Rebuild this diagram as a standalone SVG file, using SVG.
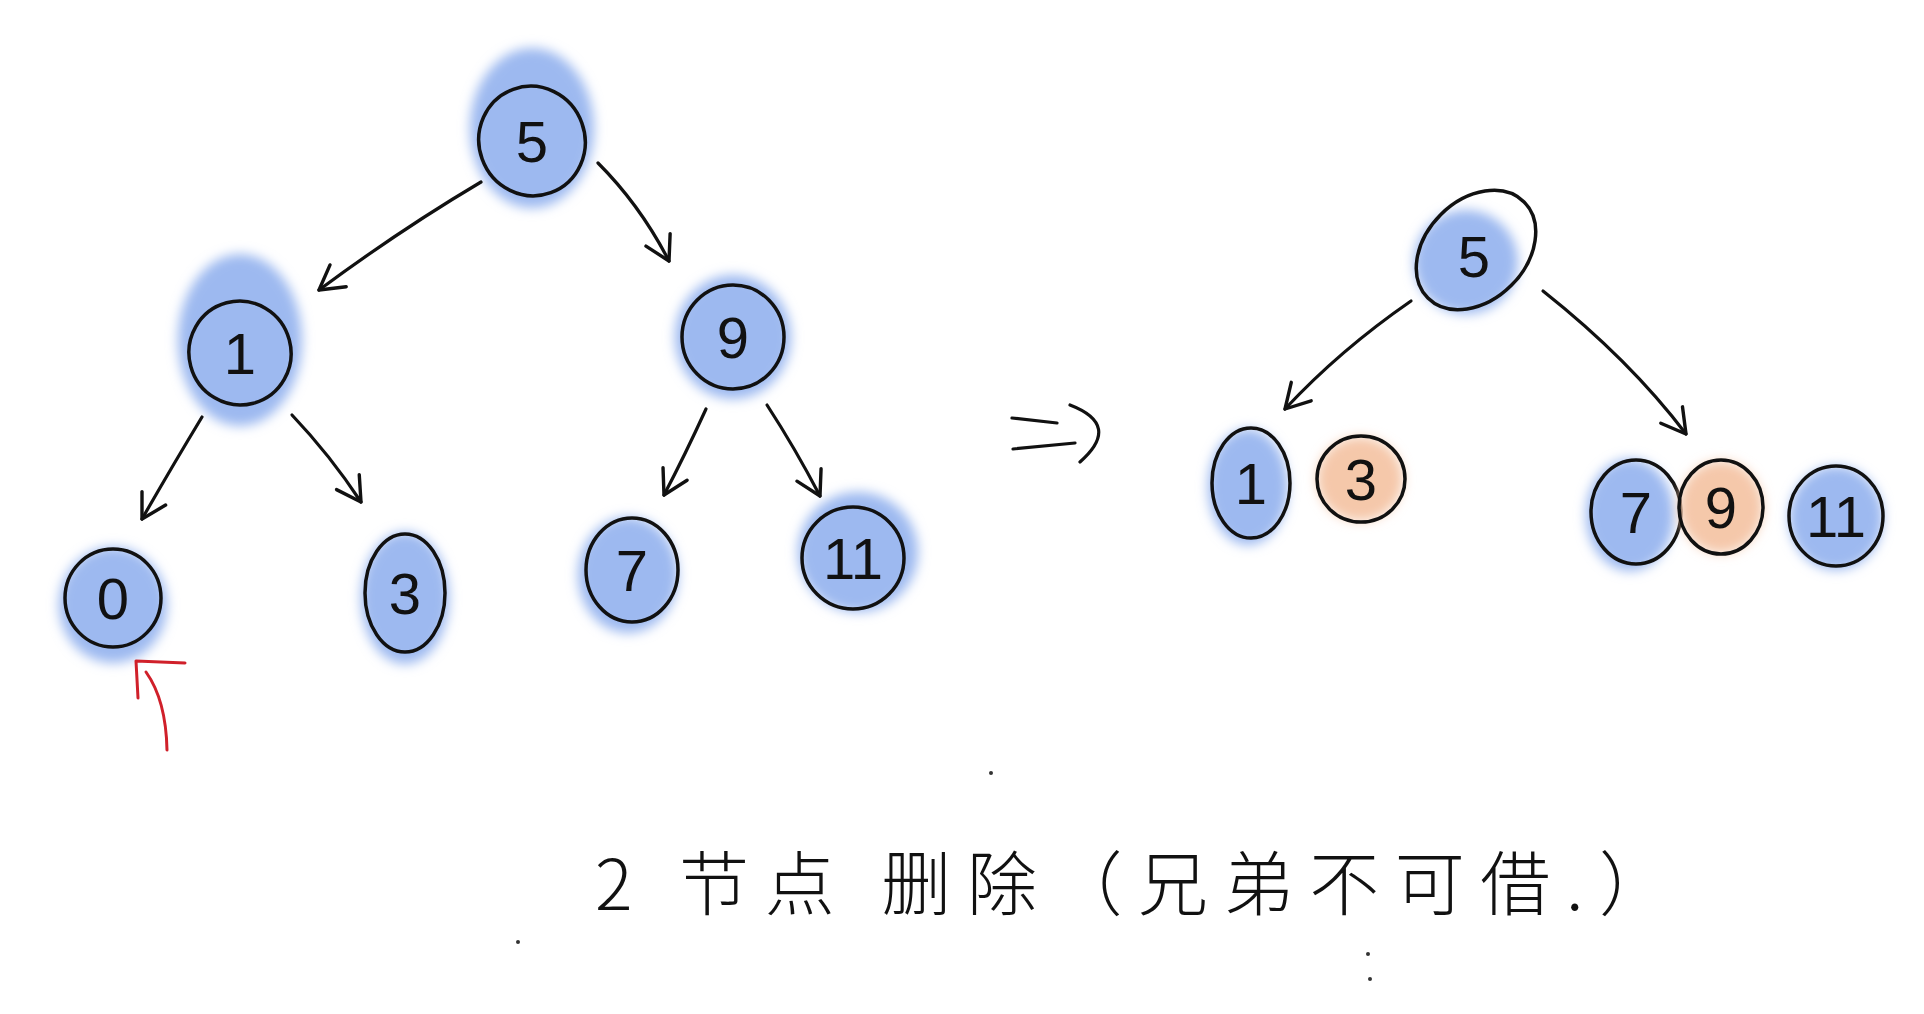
<svg xmlns="http://www.w3.org/2000/svg" width="1924" height="1014" viewBox="0 0 1924 1014">
<defs>
<filter id="soft" x="-30%" y="-30%" width="160%" height="160%"><feGaussianBlur stdDeviation="6"/></filter>
<marker id="ah" viewBox="0 0 20 20" refX="16" refY="10" markerWidth="34" markerHeight="34" markerUnits="userSpaceOnUse" orient="auto"><path d="M2,2 L16,10 L2,18" fill="none" stroke="#111" stroke-width="2" stroke-linecap="round" stroke-linejoin="round"/></marker>
</defs>
<style>
.ring{fill:none;stroke:#111;stroke-width:3.5}
.blue{fill:#9db9f0}
.orange{fill:#f5c8aa}
.lbl{font-family:"Liberation Sans","DejaVu Sans",sans-serif;font-size:58px;fill:#111;text-anchor:middle;dominant-baseline:central}
.edge{fill:none;stroke:#111;stroke-width:3.2;stroke-linecap:round}
.title{font-family:"Noto Sans CJK SC","Noto Sans",sans-serif;font-size:70px;font-weight:300;fill:#111}
</style>
<rect width="1924" height="1014" fill="#ffffff"/>

<g id="L5"><ellipse cx="532" cy="128" rx="62" ry="80" class="blue" filter="url(#soft)"/><ellipse cx="532" cy="141" rx="53" ry="55" transform="rotate(-20 532 141)" class="ring"/><text x="532" y="141" class="lbl">5</text></g>
<g id="L1"><ellipse cx="240" cy="340" rx="62" ry="86" class="blue" filter="url(#soft)"/><ellipse cx="240" cy="353" rx="51" ry="52" transform="rotate(-15 240 353)" class="ring"/><text x="240" y="353" class="lbl">1</text></g>
<g id="L9"><ellipse cx="733" cy="337" rx="58" ry="62" class="blue" filter="url(#soft)"/><ellipse cx="733" cy="337" rx="51" ry="52" class="ring"/><text x="733" y="337" class="lbl">9</text></g>
<g id="L0"><ellipse cx="113" cy="605" rx="54" ry="58" class="blue" filter="url(#soft)"/><ellipse cx="113" cy="598" rx="48" ry="49" class="ring"/><text x="113" y="598" class="lbl">0</text></g>
<g id="L3"><ellipse cx="405" cy="598" rx="44" ry="66" class="blue" filter="url(#soft)"/><ellipse cx="405" cy="593" rx="40" ry="59" class="ring"/><text x="405" y="593" class="lbl">3</text></g>
<g id="L7"><ellipse cx="628" cy="575" rx="50" ry="58" class="blue" filter="url(#soft)"/><ellipse cx="632" cy="570" rx="46" ry="52" class="ring"/><text x="632" y="570" class="lbl">7</text></g>
<g id="L11"><ellipse cx="858" cy="552" rx="60" ry="60" class="blue" filter="url(#soft)"/><ellipse cx="853" cy="558" rx="51" ry="51" class="ring"/><text x="853" y="558" class="lbl">11</text></g>

<g id="R5"><ellipse cx="1466" cy="262" rx="52" ry="52" class="blue" filter="url(#soft)"/><ellipse cx="1476" cy="250" rx="68" ry="50" transform="rotate(-45 1476 250)" class="ring"/><text x="1474" y="256" class="lbl">5</text></g>
<g id="R1"><ellipse cx="1248" cy="487" rx="40" ry="58" class="blue" filter="url(#soft)"/><ellipse cx="1251" cy="483" rx="39" ry="55" class="ring"/><text x="1251" y="483" class="lbl">1</text></g>
<g id="R3"><ellipse cx="1360" cy="479" rx="43" ry="42" class="orange" filter="url(#soft)"/><ellipse cx="1361" cy="479" rx="44" ry="43" class="ring"/><text x="1361" y="479" class="lbl">3</text></g>
<g id="R7"><ellipse cx="1630" cy="515" rx="44" ry="56" class="blue" filter="url(#soft)"/><ellipse cx="1636" cy="512" rx="45" ry="52" class="ring"/><text x="1636" y="512" class="lbl">7</text></g>
<g id="R9"><ellipse cx="1721" cy="507" rx="42" ry="46" class="orange" filter="url(#soft)"/><ellipse cx="1721" cy="507" rx="42" ry="47" class="ring"/><text x="1721" y="507" class="lbl">9</text></g>
<g id="R11"><ellipse cx="1836" cy="518" rx="47" ry="52" class="blue" filter="url(#soft)"/><ellipse cx="1836" cy="516" rx="47" ry="50" class="ring"/><text x="1836" y="516" class="lbl">11</text></g>

<g id="connectors">
<path class="edge" d="M481,182 Q400,230 319,290" marker-end="url(#ah)"/>
<path class="edge" d="M598,163 Q640,205 669,261" marker-end="url(#ah)"/>
<path class="edge" d="M202,417 Q170,470 142,519" marker-end="url(#ah)"/>
<path class="edge" d="M292,415 Q330,455 361,502" marker-end="url(#ah)"/>
<path class="edge" d="M706,409 Q685,455 664,495" marker-end="url(#ah)"/>
<path class="edge" d="M767,405 Q795,448 820,496" marker-end="url(#ah)"/>
<path class="edge" d="M1411,301 Q1340,350 1285,409" marker-end="url(#ah)"/>
<path class="edge" d="M1543,291 Q1630,360 1686,434" marker-end="url(#ah)"/>
<path d="M167,750 Q166,700 146,672 M138,698 L136,661 L185,663" fill="none" stroke="#d0202a" stroke-width="3" stroke-linecap="round" stroke-linejoin="round"/>
<path class="edge" d="M1012,418 L1057,423 M1013,449 L1075,443 M1070,405 Q1122,425 1080,462"/>
</g>

<text x="595" y="910" class="title" textLength="1074" lengthAdjust="spacing">2 节点 删除（兄弟不可借.）</text>
<g fill="#333">
<circle cx="991" cy="773" r="2"/>
<circle cx="518" cy="942" r="2"/>
<circle cx="1368" cy="954" r="2"/>
<circle cx="1370" cy="979" r="2"/>
</g>
</svg>
